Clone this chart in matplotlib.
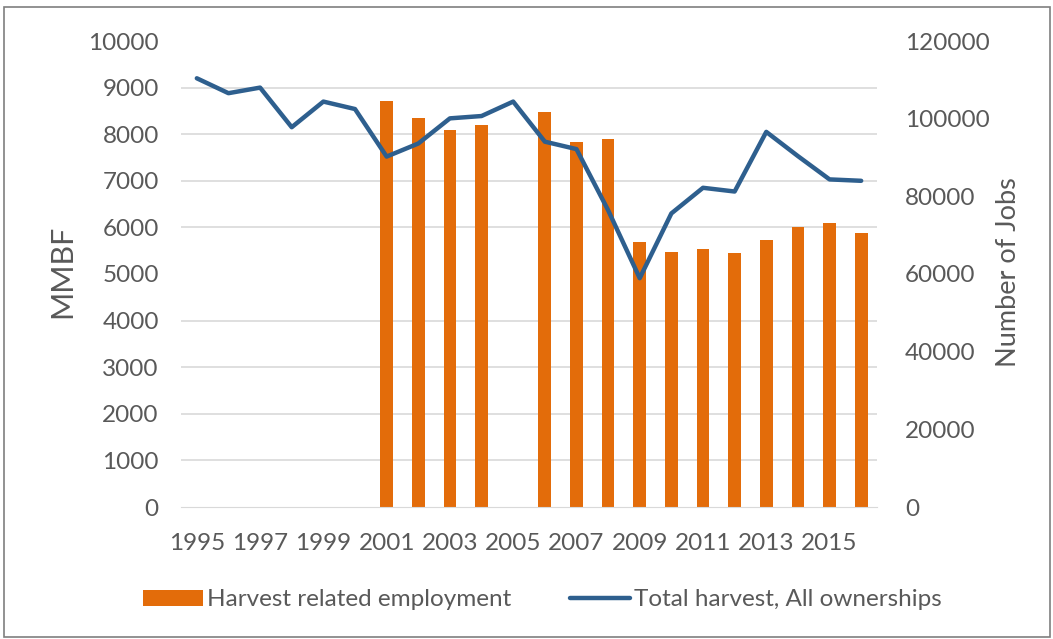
import matplotlib.pyplot as plt
from matplotlib.patches import Rectangle
from matplotlib.ticker import MultipleLocator

plt.rcParams['font.family'] = ['Lato', 'DejaVu Sans']

years = list(range(1995, 2017))
# total harvest, MMBF (left axis)
harvest = [9200, 8880, 9000, 8150, 8700, 8540, 7520, 7800, 8340, 8390, 8700,
           7840, 7680, 6370, 4910, 6300, 6850, 6770, 8050, 7530, 7030, 7000]
# harvest related employment, jobs (right axis); no data before 2001 and in 2005
jobs = [None, None, None, None, None, None, 104500, 100250, 97100, 98400, None,
        101650, 94100, 94850, 68300, 65750, 66500, 65500, 68650, 72000, 73050, 70500]
xlabels = [str(y) if (y - 1995) % 2 == 0 else '' for y in years]

grey = '#595959'
fig = plt.figure(figsize=(10.53, 6.39), dpi=100)
ax = fig.add_axes([181/1053, 1 - 507/639, 696/1053, 466/639])
ax2 = ax.twinx()

xs = list(range(len(years)))
bx = [x for x, v in zip(xs, jobs) if v is not None]
bv = [v for v in jobs if v is not None]
bars = ax.bar(bx, bv, width=0.4, color='#E36C0A', zorder=2,
              label='Harvest related employment')
line, = ax2.plot(xs, harvest, color='#2E5F8E', lw=3.2, solid_capstyle='round',
                 solid_joinstyle='round', label='Total harvest, All ownerships')

ax.set_xlim(-0.5, len(years) - 0.5)
ax.set_ylim(0, 120000)
ax2.set_ylim(0, 10000)
# gridlines follow the left (MMBF) ticks: every 1000 MMBF = 12000 jobs
ax.yaxis.set_major_locator(MultipleLocator(20000))
ax.yaxis.set_minor_locator(MultipleLocator(12000))
ax.grid(True, which='minor', axis='y', color='#D9D9D9', lw=1.2, zorder=0)
ax.set_axisbelow(True)
ax.yaxis.tick_right()
ax.yaxis.set_label_position('right')
ax2.yaxis.tick_left()
ax2.yaxis.set_label_position('left')
ax2.yaxis.set_major_locator(MultipleLocator(1000))

ax.set_xticks(xs)
ax.set_xticklabels(xlabels)

for a in (ax, ax2):
    for s in a.spines.values():
        s.set_visible(False)
    a.tick_params(length=0, labelsize=17.5, labelcolor=grey, which='both')
ax.spines['bottom'].set_visible(True)
ax.spines['bottom'].set_color('#D9D9D9')
ax.tick_params(axis='x', pad=19)
ax.tick_params(axis='y', pad=20)
ax2.tick_params(axis='y', pad=16)

ax2.set_ylabel('MMBF', fontsize=22, color=grey)
ax2.yaxis.set_label_coords(-0.151, 0.505)
ax.set_ylabel('Number of Jobs', fontsize=19.5, color=grey)
ax.yaxis.set_label_coords(1.171, 0.505)

fig.legend([bars, line], [bars.get_label(), line.get_label()],
           loc='center', bbox_to_anchor=(0.515, 1 - 600/639), ncol=2,
           frameon=False, fontsize=17.5, labelcolor=grey, handlelength=2.5,
           handleheight=0.65, handletextpad=0.15, columnspacing=2.4)

# thin frame round the whole chart
fig.patches.append(Rectangle((4/1053, 2/639), 1046/1053, 630/639,
                             transform=fig.transFigure, fill=False,
                             edgecolor='#7F7F7F', lw=1.2))

plt.savefig('out.png')
